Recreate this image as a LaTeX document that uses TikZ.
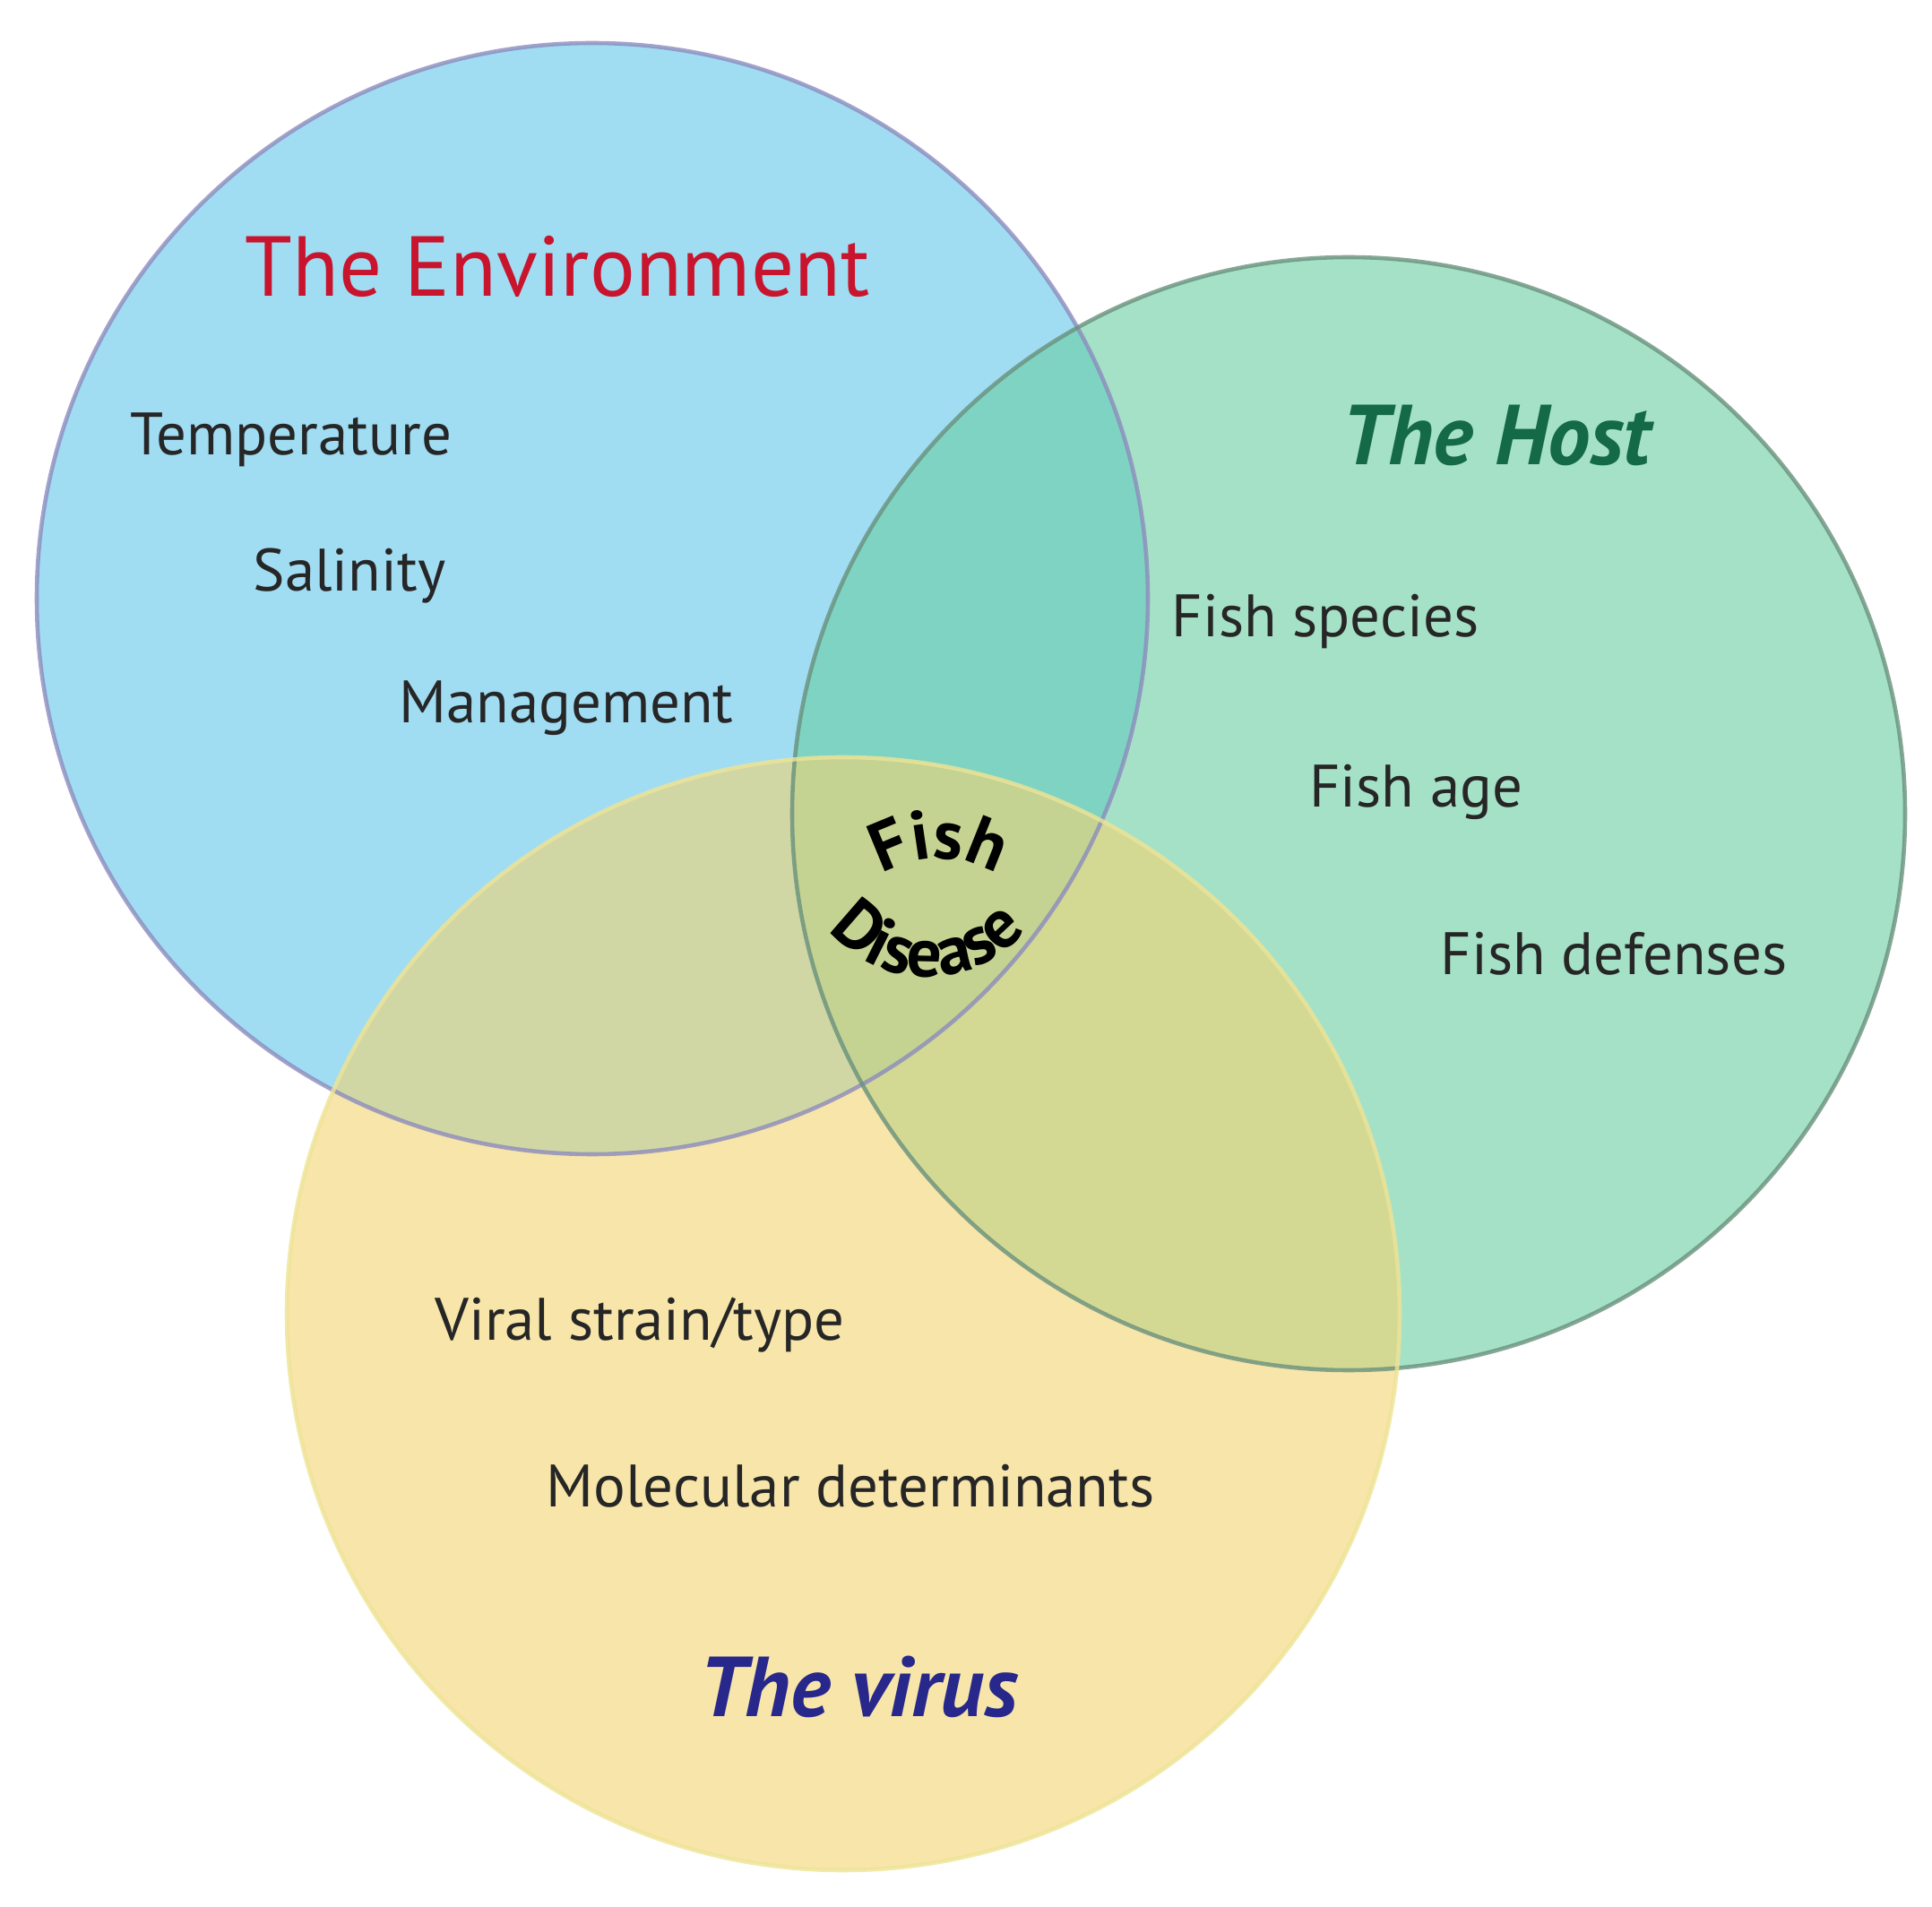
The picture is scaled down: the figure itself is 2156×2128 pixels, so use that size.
\documentclass[tikz,border=0pt]{standalone}
\usepackage{fontspec}
\setmainfont{PT Sans}
\usetikzlibrary{decorations.text}
\definecolor{envfill}{RGB}{160,220,242}
\definecolor{hostfill}{RGB}{105,205,163}
\definecolor{virfill}{RGB}{242,212,113}
\definecolor{envline}{RGB}{140,140,190}
\definecolor{hostline}{RGB}{105,145,125}
\definecolor{virline}{RGB}{238,228,150}
\definecolor{envred}{RGB}{200,20,45}
\definecolor{hostgreen}{RGB}{20,105,70}
\definecolor{virblue}{RGB}{40,40,140}
\tikzset{
  item/.style={font=\fontsize{19}{22}\selectfont, text=black!85},
  title/.style={font=\fontsize{27}{32}\selectfont},
}
\begin{document}
\begin{tikzpicture}[x=0.01cm,y=-0.01cm]
\useasboundingbox (0,0) rectangle (2156,2128);
\fill[white] (0,0) rectangle (2156,2128);
\fill[envfill] (661,668) circle (620);
\fill[hostfill,opacity=0.6] (1505,908) circle (621);
\fill[virfill,opacity=0.6] (941,1466) circle (621);
\draw[envline,line width=1.3pt,opacity=0.8] (661,668) circle (620);
\draw[hostline,line width=1.3pt,opacity=0.8] (1505,908) circle (621);
\draw[virline,line width=1.3pt,opacity=0.8] (941,1466) circle (621);

\node[title,text=envred] (env) at (622,297) {The Environment};
\node[item] (temp) at (325,491) {Temperature};
\node[item] (sal) at (390,643) {Salinity};
\node[item] (man) at (632,790) {Management};

\node[title,text=hostgreen,font=\fontsize{27}{32}\selectfont\bfseries\itshape] (host) at (1670,486) {The Host};
\node[item] (fsp) at (1479,694) {Fish species};
\node[item] (fage) at (1580,884) {Fish age};
\node[item] (fdef) at (1801,1064) {Fish defenses};

\node[item] (vst) at (714,1479) {Viral strain/type};
\node[item] (mol) at (949,1658) {Molecular determinants};
\node[title,text=virblue,font=\fontsize{27}{32}\selectfont\bfseries\itshape] (vir) at (958,1882) {The virus};

\path[decorate,decoration={text along path,text align=center,
  text={|\fontsize{22}{26}\selectfont\bfseries|Fish}}]
  (1048,1080) ++(205:122) arc[start angle=205,end angle=335,radius=122];
\path[decorate,decoration={text along path,text align=center,
  text={|\fontsize{22}{26}\selectfont\bfseries|D{}i{}s{}e{}a{}s{}e}}]
  (1035,948) ++(175:142) arc[start angle=175,end angle=5,radius=142];
\end{tikzpicture}
\end{document}
